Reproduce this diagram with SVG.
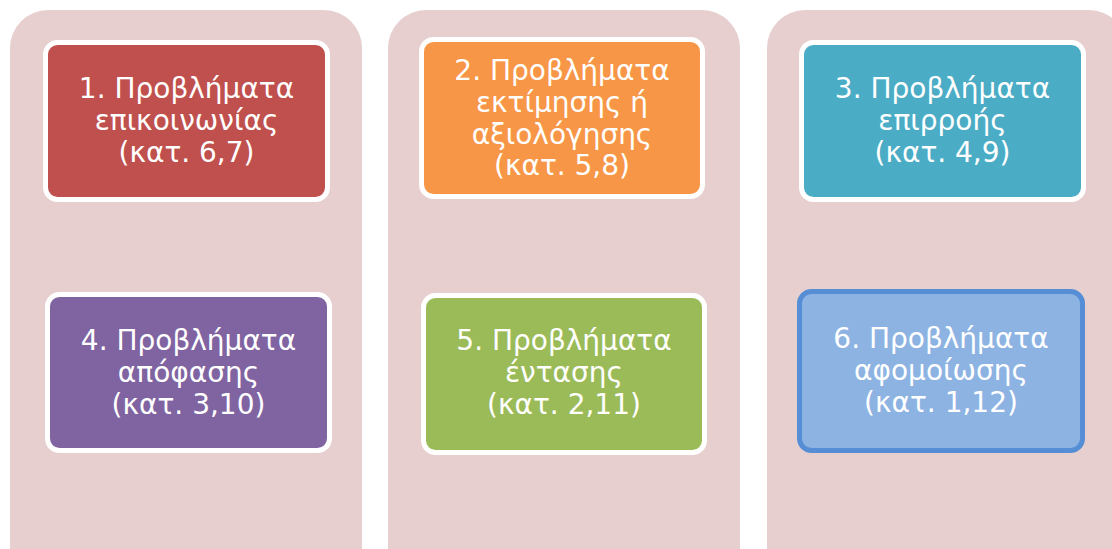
<svg xmlns="http://www.w3.org/2000/svg" width="1112" height="549" viewBox="0 0 1112 549">
<style>
.bg{fill:#E7CFCF}
.box{stroke:#FFFFFF;stroke-width:5}
.t{font-family:"DejaVu Sans",Verdana,sans-serif;font-size:28px;fill:#FFFFFF;text-anchor:middle}
</style>
<rect width="1112" height="549" fill="#FFFFFF"/>
<g id="columns">
<rect class="bg" x="10" y="10" width="352" height="580" rx="38"/>
<rect class="bg" x="388" y="10" width="352" height="580" rx="38"/>
<rect class="bg" x="767" y="10" width="360" height="580" rx="38"/>
</g>
<g id="node1">
<rect class="box" x="45.5" y="42.5" width="282" height="157" rx="12" fill="#C0504D"/>
<text class="t"><tspan x="186.5" y="98">1. Προβλήματα</tspan><tspan x="186.5" y="130">επικοινωνίας</tspan><tspan x="186.5" y="162">(κατ. 6,7)</tspan></text>
</g>
<g id="node2">
<rect class="box" x="421.5" y="39.5" width="281" height="157" rx="12" fill="#F79646"/>
<text class="t"><tspan x="562" y="80">2. Προβλήματα</tspan><tspan x="562" y="112">εκτίμησης ή</tspan><tspan x="562" y="143.5">αξιολόγησης</tspan><tspan x="562" y="175">(κατ. 5,8)</tspan></text>
</g>
<g id="node3">
<rect class="box" x="801.5" y="42.5" width="282" height="157" rx="12" fill="#4BACC6"/>
<text class="t"><tspan x="942.5" y="98">3. Προβλήματα</tspan><tspan x="942.5" y="130">επιρροής</tspan><tspan x="942.5" y="162">(κατ. 4,9)</tspan></text>
</g>
<g id="node4">
<rect class="box" x="47.5" y="294.5" width="282" height="156" rx="12" fill="#8064A2"/>
<text class="t"><tspan x="188.5" y="350">4. Προβλήματα</tspan><tspan x="188.5" y="382">απόφασης</tspan><tspan x="188.5" y="414">(κατ. 3,10)</tspan></text>
</g>
<g id="node5">
<rect class="box" x="423.5" y="295.5" width="281" height="157" rx="12" fill="#9BBB59"/>
<text class="t"><tspan x="564" y="350">5. Προβλήματα</tspan><tspan x="564" y="382">έντασης</tspan><tspan x="564" y="414">(κατ. 2,11)</tspan></text>
</g>
<g id="node6">
<rect x="799.5" y="291.5" width="283" height="159" rx="12" fill="#8DB3E2" stroke="#558ED5" stroke-width="5"/>
<text class="t"><tspan x="941" y="348">6. Προβλήματα</tspan><tspan x="941" y="380">αφομοίωσης</tspan><tspan x="941" y="412">(κατ. 1,12)</tspan></text>
</g>
<g id="connectors"></g>
</svg>
